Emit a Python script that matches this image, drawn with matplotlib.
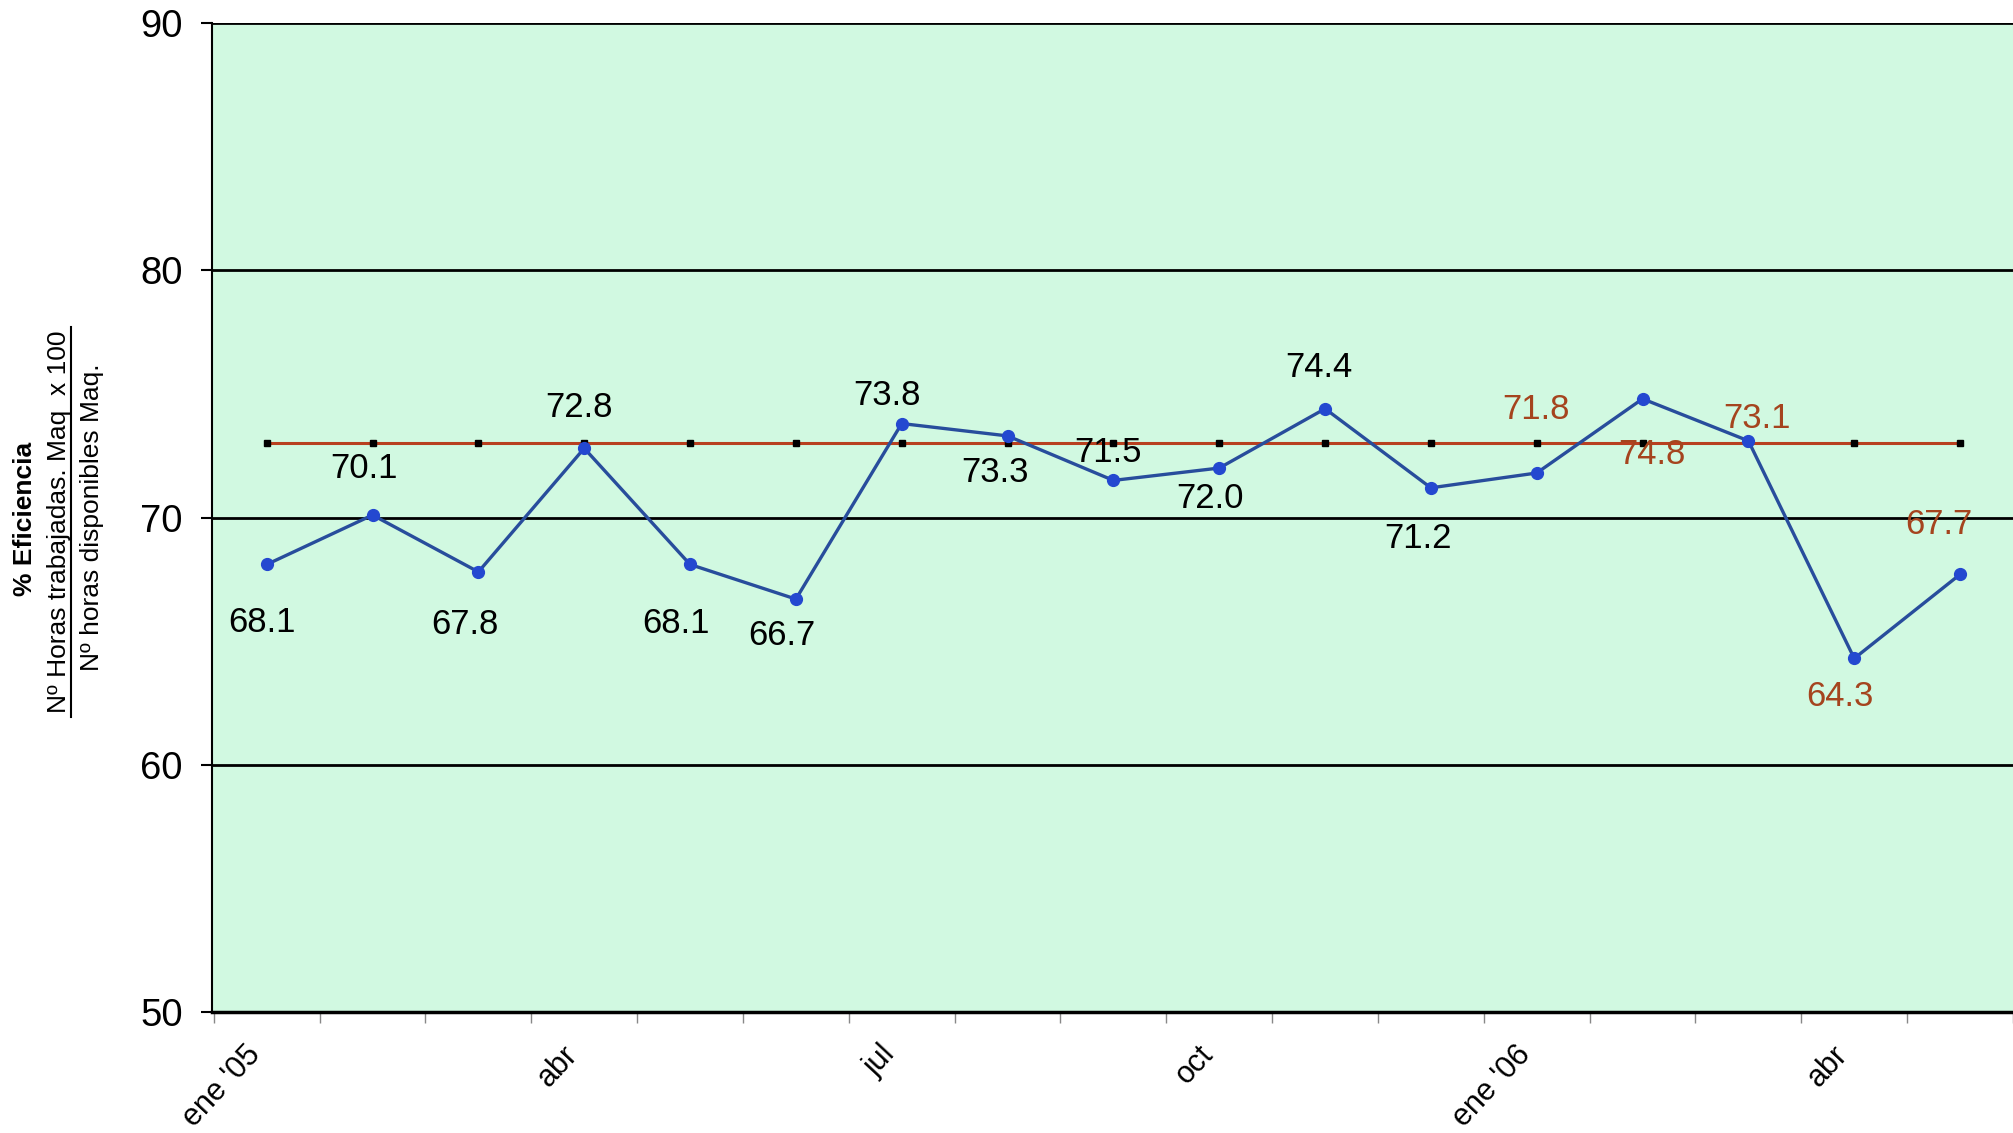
import matplotlib
matplotlib.use("Agg")
import matplotlib.pyplot as plt
from matplotlib.lines import Line2D
from matplotlib.transforms import ScaledTranslation

plt.rcParams['font.family'] = ['Liberation Sans', 'DejaVu Sans']

# Monthly machine efficiency, ene 2005 - may 2006
months = ["ene '05", "feb", "mar", "abr", "may", "jun", "jul", "ago", "sep",
          "oct", "nov", "dic", "ene '06", "feb", "mar", "abr", "may"]
efficiency = [68.1, 70.1, 67.8, 72.8, 68.1, 66.7, 73.8, 73.3, 71.5,
              72.0, 74.4, 71.2, 71.8, 74.8, 73.1, 64.3, 67.7]
target = [73.0] * len(months)

# label offsets (pixels) relative to each point
label_dx = [-5, -9, -13, -5, -14, -14, -15, -13, -5, -9, -6, -13, -1, 9, 9, -14, -21]
label_dy = [-58, 47, -53, 41, -59, -36, 28, -37, 28, -30, 41, -51, 63, -56, 22, -38, 50]
label_color = ['black'] * 12 + ['#a5441e'] * 5

tick_idx = [0, 3, 6, 9, 12, 15]

W, H = 2013, 1133
fig = plt.figure(figsize=(W / 100, H / 100), dpi=100)
ax = fig.add_axes([212 / W, 121 / H, 1 - 212 / W, (1110 - 121) / H])
ax.set_facecolor('#d1f9e1')

x = list(range(len(months)))
ax.set_xlim(-0.517, 16.356)
ax.set_ylim(50, 90)

# horizontal reference lines
for yv in (60, 70, 80, 90):
    ax.axhline(yv, color='black', lw=2.0, zorder=1)

ax.plot(x, target, color='#b8401f', lw=2.2, marker='s', ms=4.5,
        mfc='black', mec='black', zorder=2)
ax.plot(x, efficiency, color='#284d9c', lw=2.4, marker='o', ms=8.5,
        mfc='#2448d0', mec='#2448d0', zorder=3)

for i, v in enumerate(efficiency):
    ax.annotate(f"{v:.1f}", (x[i], v),
                xytext=(label_dx[i] * 0.72, label_dy[i] * 0.72),
                textcoords='offset points', ha='center', va='center',
                fontsize=25, color=label_color[i], zorder=4)

for s in ('top', 'right'):
    ax.spines[s].set_visible(False)
ax.spines['left'].set_linewidth(1.5)
ax.spines['bottom'].set_linewidth(2.5)

ax.set_yticks([50, 60, 70, 80, 90])
ax.tick_params(axis='y', labelsize=27.5, length=8, width=1.5, pad=13)

ax.set_xticks([x[i] for i in tick_idx])
ax.set_xticklabels([months[i] for i in tick_idx], rotation=47,
                   ha='right', va='top', rotation_mode='anchor', fontsize=22)
ax.tick_params(axis='x', length=0, pad=20)
shift = ScaledTranslation(-22 / 100, 0, fig.dpi_scale_trans)
for lbl in ax.get_xticklabels():
    lbl.set_transform(lbl.get_transform() + shift)
ax.set_xticks([i - 0.5 for i in range(len(months) + 1)], minor=True)
ax.tick_params(axis='x', which='minor', length=8, width=1, color='#888888')

# y-axis title as a fraction
fig.text(25 / W, 1 - 519 / H, "% Eficiencia", rotation=90, fontsize=19,
         fontweight='bold', ha='center', va='center')
fig.text(59 / W, 1 - 522 / H, "Nº Horas trabajadas. Maq  x 100", rotation=90,
         fontsize=19, ha='center', va='center')
fig.text(92 / W, 1 - 517 / H, "Nº horas disponibles Maq.", rotation=90,
         fontsize=19, ha='center', va='center')
fig.add_artist(Line2D([71 / W, 71 / W], [1 - 717 / H, 1 - 327 / H],
                      color='black', lw=1.5, transform=fig.transFigure))

fig.savefig('out.png', dpi=100, facecolor='white')
